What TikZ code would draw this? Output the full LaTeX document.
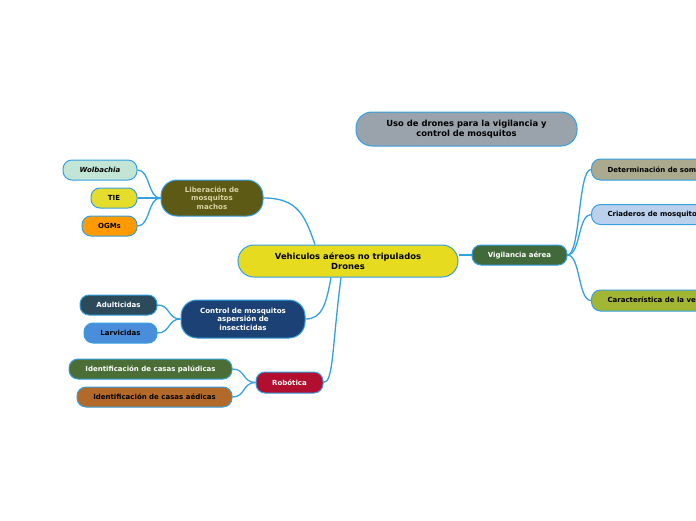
\documentclass[tikz,border=0pt]{standalone}
\usepackage{fontspec}
\setmainfont{DejaVu Sans}
\usepackage{xcolor}
\usepackage{tikz}
\usetikzlibrary{positioning, calc}
\definecolor{azullinha}{HTML}{33A0E2}
\definecolor{amarelocentral}{HTML}{E6DB1E}
\definecolor{cinzatitulo}{HTML}{9AA2AB}
\definecolor{olivaescuro}{HTML}{5C5A14}
\definecolor{textooliva}{HTML}{D8D3A3}
\definecolor{verdeagua}{HTML}{C2E5D5}
\definecolor{amarelotie}{HTML}{E5DD2B}
\definecolor{laranja}{HTML}{FF9A00}
\definecolor{azulescuro}{HTML}{1C4275}
\definecolor{ardosia}{HTML}{2D4A5B}
\definecolor{azullarva}{HTML}{4A8DDB}
\definecolor{carmim}{HTML}{B20E30}
\definecolor{verdepalu}{HTML}{4A6E36}
\definecolor{marrom}{HTML}{B3692A}
\definecolor{verdevigi}{HTML}{42693A}
\definecolor{caqui}{HTML}{ABA98E}
\definecolor{azulclaro}{HTML}{BBD0EC}
\definecolor{verdeoliva}{HTML}{A3B634}

\begin{document}
\begin{tikzpicture}[x=1pt, y=-1pt,
    topico/.style={draw=azullinha, line width=1pt, rounded corners=9pt, minimum height=20pt, inner sep=0pt, align=center, font=\fontsize{7}{8.4}\selectfont\bfseries},
    grande/.style={topico, rounded corners=16pt, font=\fontsize{7.1}{8.6}\selectfont\bfseries},
    ramo/.style={draw=azullinha, line width=1.3pt}
]
    \useasboundingbox[fill=white] (0,0) rectangle (696,520);

    \node[grande, fill=amarelocentral, minimum width=220pt, minimum height=32pt, font=\fontsize{8.4}{10}\selectfont\bfseries] (drones) at (348,261) {Vehiculos aéreos no tripulados\\Drones};
    \node[grande, fill=cinzatitulo, minimum width=221pt, minimum height=34pt, font=\fontsize{8.4}{10}\selectfont\bfseries] (titulo) at (466.5,129) {Uso de drones para la vigilancia y\\control de mosquitos};

    \node[grande, fill=olivaescuro, text=textooliva, minimum width=102pt, minimum height=36pt] (liberacion) at (212,198) {Liberación de\\mosquitos\\machos};
    \node[topico, fill=verdeagua, minimum width=74pt] (wolbachia) at (100,170) {\itshape Wolbachia};
    \node[topico, fill=amarelotie, minimum width=46pt] (tie) at (114,198) {TIE};
    \node[topico, fill=laranja, minimum width=55pt] (ogms) at (109.5,226) {OGMs};

    \node[grande, fill=azulescuro, text=white, minimum width=124pt, minimum height=38pt] (control) at (243,319) {Control de mosquitos\\aspersión de\\insecticidas};
    \node[topico, fill=ardosia, text=white, minimum width=77pt] (adulticidas) at (118.5,305) {Adulticidas};
    \node[topico, fill=azullarva, minimum width=73pt] (larvicidas) at (120.5,333) {Larvicidas};

    \node[topico, fill=carmim, text=white, minimum width=67pt, minimum height=21pt] (robotica) at (289.5,382.5) {Robótica};
    \node[topico, fill=verdepalu, text=white, minimum width=163pt] (paludicas) at (150.5,369) {Identificación de casas palúdicas};
    \node[topico, fill=marrom, minimum width=155pt] (aedicas) at (154.5,397) {Identificación de casas aédicas};

    \node[topico, fill=verdevigi, text=white, minimum width=95pt] (vigilancia) at (519.5,255) {Vigilancia aérea};
    \node[topico, fill=caqui, anchor=west, inner xsep=16pt, minimum height=21pt] (sombras) at (591,169.5) {Determinación de sombras};
    \node[topico, fill=azulclaro, anchor=west, inner xsep=16pt] (criaderos) at (591,214.5) {Criaderos de mosquitos};
    \node[topico, fill=verdeoliva, anchor=west, inner xsep=16pt, minimum height=21pt] (vegetacion) at (591,300.5) {Característica de la vegetación};

    % ramos do topico central
    \draw[ramo] (liberacion.east) .. controls +(35,0) and +(-10,-28) .. ([xshift=-33pt]drones.north);
    \draw[ramo] ([xshift=-17pt]drones.south) .. controls +(-5,28) and +(16,0) .. (control.east);
    \draw[ramo] ([xshift=-7pt]drones.south) .. controls +(-9,70) and +(10,0) .. (robotica.east);
    \draw[ramo] ([yshift=6pt]drones.east) -- (vigilancia.west);

    % subtopicos
    \foreach \filho in {wolbachia, tie, ogms}
        \draw[ramo] (liberacion.west) .. controls +(-13,0) and +(13,0) .. (\filho.east);
    \foreach \filho in {adulticidas, larvicidas}
        \draw[ramo] (control.west) .. controls +(-13,0) and +(13,0) .. (\filho.east);
    \foreach \filho in {paludicas, aedicas}
        \draw[ramo] (robotica.west) .. controls +(-13,0) and +(13,0) .. (\filho.east);
    \foreach \filho in {sombras, criaderos, vegetacion}
        \draw[ramo] (vigilancia.east) .. controls +(13,0) and +(-13,0) .. (\filho.west);
\end{tikzpicture}
\end{document}
